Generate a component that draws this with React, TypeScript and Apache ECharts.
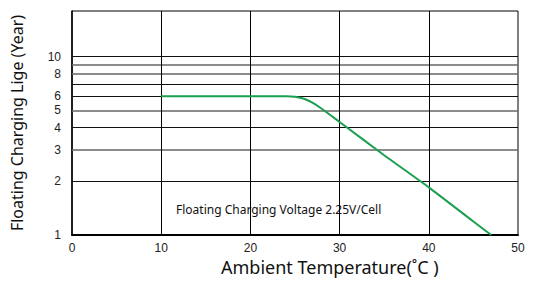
import React, { useEffect, useRef } from "react";
import * as echarts from "echarts";

const temps = [10, 20, 24, 25, 26, 27, 28, 30, 35, 40, 45, 47];
const years = [6, 6, 6, 5.95, 5.8, 5.5, 5.1, 4.3, 2.8, 1.85, 1.19, 1.0];
const yLabels = [1, 2, 3, 4, 5, 6, 8, 10];
const darkGrid = [2, 4, 6, 7, 10];
const grayGrid = [3, 5, 8, 9];
const xTicks = [0, 10, 20, 30, 40, 50];
const note = "Floating Charging Voltage 2.25V/Cell";
const xTitle = "Ambient Temperature(˚C )";
const yTitle = "Floating Charging Lige (Year)";

export default function App() {
  const ref = useRef<HTMLDivElement>(null);
  useEffect(() => {
    document.body.style.margin = "0";
    const chart = echarts.init(ref.current!, null, { renderer: "svg" });
    const gridLines = [
      ...darkGrid.map((v) => ({ yAxis: v, lineStyle: { color: "#111", width: 1, type: "solid" } })),
      ...grayGrid.map((v) => ({ yAxis: v, lineStyle: { color: "#666", width: 1.5, type: "solid" } })),
      ...xTicks.slice(1, -1).map((v) => ({ xAxis: v, lineStyle: { color: "#000", width: 1, type: "solid" } })),
    ];
    chart.setOption({
      animation: false,
      grid: { left: 72, right: 15, top: 11, bottom: 48, show: true, borderColor: "#000", borderWidth: 1 },
      xAxis: {
        type: "value",
        min: 0,
        max: 50,
        interval: 10,
        axisLine: { lineStyle: { color: "#000", width: 2 } },
        axisTick: { show: false },
        splitLine: { show: false },
        axisLabel: { fontFamily: "Liberation Sans", fontSize: 12, color: "#222", margin: 7 },
      },
      yAxis: {
        type: "log",
        min: 1,
        max: 18,
        logBase: 10,
        name: yTitle,
        nameLocation: "middle",
        nameGap: 47,
        nameTextStyle: { fontFamily: "Noto Sans", fontSize: 16, color: "#111" },
        axisLine: { lineStyle: { color: "#000", width: 1.5 } },
        axisTick: { show: false },
        splitLine: { show: false },
        minorSplitLine: { show: false },
        axisLabel: {
          customValues: yLabels,
          fontFamily: "Liberation Sans",
          fontSize: 12,
          color: "#222",
          margin: 11,
          formatter: (v: number) => String(Math.round(v)),
        },
      },
      graphic: [
        {
          type: "text",
          left: 176,
          top: 203,
          style: {
            text: note,
            fontFamily: "Noto Sans",
            fontSize: 12,
            fill: "#111",
          },
        },
        {
          type: "text",
          left: 221,
          top: 258,
          style: {
            text: xTitle,
            fontFamily: "Noto Sans",
            fontSize: 18,
            fill: "#111",
          },
        },
      ],
      series: [
        {
          type: "line",
          data: temps.map((t, i) => [t, years[i]]),
          showSymbol: false,
          smooth: 0.2,
          lineStyle: { color: "#1aa050", width: 2 },
          z: 5,
          markLine: {
            silent: true,
            symbol: "none",
            label: { show: false },
            data: gridLines,
            z: 1,
          },
        },
      ],
    });
    return () => chart.dispose();
  }, []);
  return <div ref={ref} style={{ width: 533, height: 283 }} />;
}
